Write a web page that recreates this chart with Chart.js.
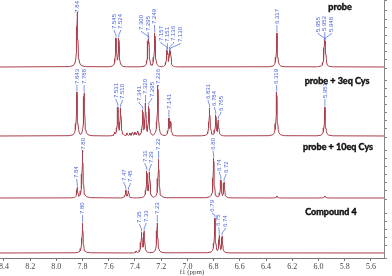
<!DOCTYPE html>
<html>
<head>
<meta charset="utf-8">
<script src="https://cdn.jsdelivr.net/npm/chart.js@4.4.1/dist/chart.umd.min.js"></script>
<style>
  html, body { margin: 0; padding: 0; background: #fff; }
</style>
</head>
<body>
<canvas id="nmr" width="392" height="276"></canvas>
<script>
// spectra, top to bottom
const titles = ["probe", "probe + 3eq Cys", "probe + 10eq Cys", "Compound 4"];

// x range of the plot (ppm), drawn reversed
const ppmLow = 5.5;
const ppmHigh = 8.43;

// peak shifts (ppm)
const shifts = [
  [7.840, 7.545, 7.524, 7.300, 7.295, 7.249, 7.157, 7.151, 7.136, 7.130, 6.317, 5.955, 5.952, 5.948],
  [7.843, 7.788, 7.531, 7.510, 7.341, 7.320, 7.295, 7.226, 7.141, 6.831, 6.784, 6.765, 6.319, 5.951,
   7.555, 7.460, 7.440, 7.420, 7.400, 7.380, 7.128],
  [7.840, 7.800, 7.470, 7.450, 7.310, 7.290, 7.220, 6.800, 6.745, 6.720, 6.317, 5.950],
  [7.800, 7.350, 7.330, 7.230, 6.790, 6.757, 6.735, 7.390]
];
// peak heights (arbitrary units, per panel)
const heights = [
  [55, 29, 29, 28, 27, 34, 17, 16, 17, 16, 34, 26, 27, 26],
  [44, 43, 29, 28, 26, 33, 30, 51, 18, 28, 21, 16, 44, 29,
   4, 3, 3, 4, 4, 5, 15],
  [11, 48, 8, 7, 27, 26, 39, 40, 18, 16, 2, 2],
  [30, 21, 22, 30, 35, 18, 17, 2]
];
// printed peak labels ("" = not labelled)
const peakLabels = [
  ["7.84", "7.545", "7.524", "7.300", "7.295", "7.249", "7.157", "7.151", "7.136", "7.130", "6.317", "5.955", "5.952", "5.948"],
  ["7.843", "7.788", "7.531", "7.510", "7.341", "7.320", "7.295", "7.226", "7.141", "6.831", "6.784", "6.765", "6.319", "5.951",
   "", "", "", "", "", "", ""],
  ["7.84", "7.80", "7.47", "7.45", "7.31", "7.29", "7.22", "6.80", "6.74", "6.72", "", ""],
  ["7.80", "7.35", "7.33", "7.23", "6.79", "6.75", "6.74", ""]
];

// panel layout (style only)
const panelWeights = [68, 69, 62, 59];
const baseOffset = [1, 1, 1, 5];
const titleX = [340, 337, 338, 331];
const titleDy = [7, 13, 10, 13];
const lineColor = "#a8404c";
const labelColor = "#4a63d8";

// narrow line shape for each peak
const halfWidth = 0.005;
function traceFor(i) {
  const offs = [0.06, 0.03, 0.018, 0.012, 0.008, 0.005, 0.003, 0.0015, 0];
  const xs = [ppmLow, ppmHigh];
  shifts[i].forEach(p => offs.forEach(o => { xs.push(p - o); xs.push(p + o); }));
  xs.sort((a, b) => a - b);
  return xs.map(x => {
    let y = 0;
    shifts[i].forEach((p, k) => {
      const d = (x - p) / halfWidth;
      y = Math.max(y, heights[i][k] / (1 + d * d));
    });
    return { x: x, y: y };
  });
}

// spread label positions so they don't overlap
function spread(xs, gap) {
  let groups = xs.map(x => ({ xs: [x], start: x }));
  let merged = true;
  while (merged) {
    merged = false;
    for (let i = 0; i < groups.length - 1; i++) {
      const a = groups[i], b = groups[i + 1];
      if (a.start + a.xs.length * gap > b.start) {
        const all = a.xs.concat(b.xs);
        const mean = all.reduce((s, v) => s + v, 0) / all.length;
        groups.splice(i, 2, { xs: all, start: mean - (all.length - 1) * gap / 2 });
        merged = true;
        break;
      }
    }
  }
  const out = [];
  groups.forEach(g => g.xs.forEach((_, k) => out.push(g.start + k * gap)));
  return out;
}

const peakLabelPlugin = {
  id: "peakLabels",
  afterDatasetsDraw(chart) {
    const ctx = chart.ctx;
    const xs = chart.scales.x;
    ctx.save();
    titles.forEach((title, i) => {
      const ys = chart.scales["y" + i];
      ctx.font = 'bold 9px Lato, "Open Sans", sans-serif';
      ctx.fillStyle = "#111";
      ctx.strokeStyle = "#111";
      ctx.lineWidth = 0.45;
      ctx.textAlign = "center";
      ctx.textBaseline = "middle";
      ctx.fillText(title, titleX[i], ys.top + titleDy[i]);
      ctx.strokeText(title, titleX[i], ys.top + titleDy[i]);

      const items = [];
      shifts[i].forEach((p, k) => {
        if (!peakLabels[i][k]) return;
        items.push({
          text: peakLabels[i][k],
          px: xs.getPixelForValue(p),
          py: ys.getPixelForValue(heights[i][k])
        });
      });
      items.sort((a, b) => a.px - b.px);
      const lxs = spread(items.map(d => d.px), 6.4);

      ctx.font = '6px "Liberation Sans", sans-serif';
      ctx.textAlign = "left";
      ctx.strokeStyle = labelColor;
      ctx.fillStyle = labelColor;
      ctx.lineWidth = 0.7;
      items.forEach((d, k) => {
        const lx = lxs[k];
        const tw = ctx.measureText(d.text).width;
        const top = Math.max(ys.top + 1, d.py - 9 - tw);
        const bottom = top + tw;
        ctx.save();
        ctx.translate(lx, bottom);
        ctx.rotate(-Math.PI / 2);
        ctx.fillText(d.text, 0, 0);
        ctx.restore();
        const k1 = bottom + 2;
        const k2 = Math.max(k1 + 1, d.py - 3);
        ctx.beginPath();
        ctx.moveTo(lx, bottom + 1);
        ctx.lineTo(lx, k1);
        ctx.lineTo(d.px, k2);
        ctx.lineTo(d.px, Math.max(k2, d.py - 0.5));
        ctx.stroke();
      });
    });
    ctx.restore();
  }
};

const datasets = titles.map((t, i) => ({
  label: t,
  data: traceFor(i),
  yAxisID: "y" + i,
  borderColor: lineColor,
  borderWidth: 1,
  pointRadius: 0,
  tension: 0
}));

const scales = {
  x: {
    type: "linear",
    position: "bottom",
    reverse: true,
    min: ppmLow,
    max: ppmHigh,
    ticks: {
      stepSize: 0.2,
      includeBounds: false,
      autoSkip: false,
      maxRotation: 0,
      padding: 1,
      color: "#444",
      font: { family: '"Liberation Serif", serif', size: 8 },
      callback: v => v.toFixed(1)
    },
    grid: { drawOnChartArea: false, tickLength: 3, color: "#777" },
    border: { color: "#777" },
    title: {
      display: true,
      text: "f1 (ppm)",
      color: "#444",
      font: { family: '"Liberation Serif", serif', size: 7 },
      padding: { top: 0, bottom: 0 }
    },
    afterFit: s => { s.paddingLeft = 0; s.paddingRight = 0; s.height = 18; }
  }
};
titles.forEach((t, i) => {
  scales["y" + i] = {
    type: "linear",
    position: "right",
    stack: "nmr",
    stackWeight: panelWeights[i],
    min: -baseOffset[i],
    max: panelWeights[i] - baseOffset[i],
    ticks: { display: false, stepSize: 8 },
    grid: { drawOnChartArea: false, tickLength: 3, color: "#888" },
    border: { color: "#888" }
  };
});

new Chart(document.getElementById("nmr"), {
  type: "line",
  data: { datasets: datasets },
  options: {
    responsive: false,
    animation: false,
    parsing: false,
    layout: { padding: { left: 0, right: 5, top: 0, bottom: 0 } },
    plugins: { legend: { display: false }, tooltip: { enabled: false } },
    scales: scales
  },
  plugins: [peakLabelPlugin]
});
</script>
</body>
</html>
